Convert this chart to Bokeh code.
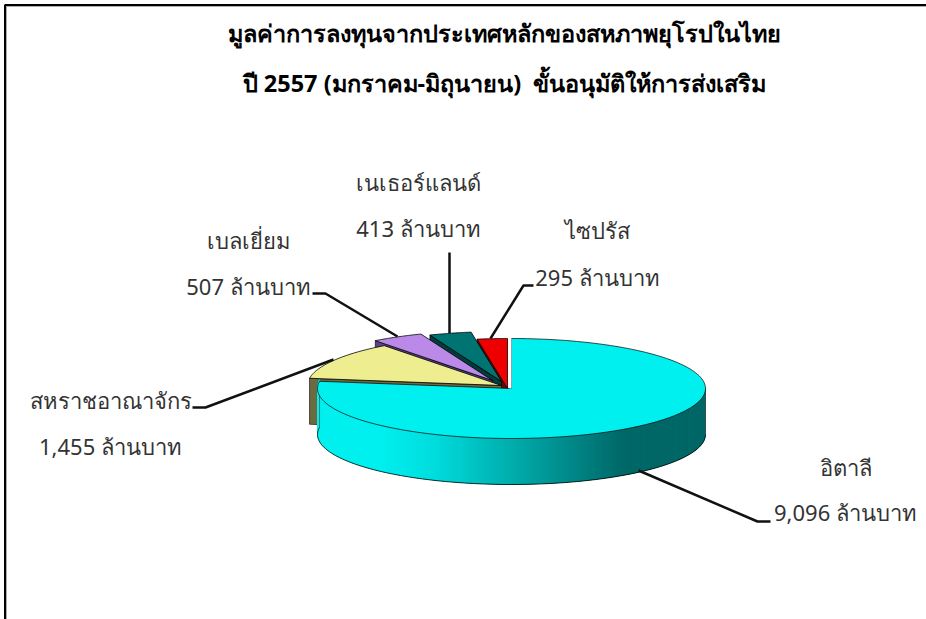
import numpy as np
from bokeh.plotting import figure
from bokeh.models import Range1d
from bokeh.core.properties import value
from bokeh.embed import file_html
from bokeh.resources import INLINE

# ---- data ----
countries = ["อิตาลี", "สหราชอาณาจักร", "เบลเยี่ยม", "เนเธอร์แลนด์", "ไซปรัส"]
amounts = [9096, 1455, 507, 413, 295]
amount_labels = ["9,096 ล้านบาท", "1,455 ล้านบาท", "507 ล้านบาท", "413 ล้านบาท", "295 ล้านบาท"]
title_lines = ["มูลค่าการลงทุนจากประเทศหลักของสหภาพยุโรปในไทย",
               "ปี 2557 (มกราคม-มิถุนายน)\u00a0 ขั้นอนุมัติให้การส่งเสริม"]

# ---- style / layout ----
W, H = 926, 619
FONT = "Noto Sans"
RX, RY, DEPTH = 194, 50, 46
top_colors = ["#00F0F0", "#EEEE90", "#BB8AE8", "#007373", "#EE0000"]
side_colors = ["#006666", "#6B6B42", "#5B4388", "#003C3C", "#770000"]
centers = [(511, 388), (501, 385), (492, 380), (501, 381), (507, 388)]
name_pos = [(845, 466), (110, 399), (248, 239), (418, 181), (597, 229)]
amount_pos = [(845, 511), (110, 445), (248, 285), (418, 227), (597, 276)]
leaders = [[(638, 470), (757, 521), (770, 521)],
           [(333, 359), (205, 407), (192, 407)],
           [(312, 293), (325, 293), (397, 336)],
           [(449, 252), (449, 333)],
           [(533, 285), (523, 285), (490, 338)]]

p = figure(width=W, height=H, output_backend="svg", toolbar_location=None,
           x_range=Range1d(0, W), y_range=Range1d(H, 0), min_border=0,
           margin=(0, 0, 0, 0), outline_line_color=None)
p.axis.visible = False
p.grid.visible = False

# frame
p.line([5.8, 5.8, W], [H, 5.8, 5.8], line_color="#999999", line_width=1)
p.line([4.5, 4.5, W], [H, 4.5, 4.5], line_color="#000000", line_width=2)


def ell(c, th):
    return c[0] + RX * np.sin(th), c[1] - RY * np.cos(th)


total = sum(amounts)
edges = np.radians(np.concatenate([[0], np.cumsum(amounts)]) / total * 360.0)

# small slices: back (last) to front
for i in range(len(amounts) - 1, 0, -1):
    c = centers[i]
    th = np.linspace(edges[i], edges[i + 1], 40)
    x, y = ell(c, th)
    sx = [c[0], x[0], x[0], c[0]]
    sy = [c[1], y[0], y[0] + DEPTH, c[1] + DEPTH]
    p.patch(sx, sy, fill_color=side_colors[i], line_color="#000000", line_width=0.6)
    p.patch(np.r_[c[0], x], np.r_[c[1], y], fill_color=top_colors[i],
            line_color="#000000", line_width=0.8)

# main slice: gradient side, overlapping strips drawn from right to left
c = centers[0]
th_side = np.radians(np.linspace(90, np.degrees(edges[1]), 200))
x_s, y_s = ell(c, th_side)
stops_x = [318, 380, 433, 533, 620, 640, 705]
stops_g = [240, 240, 221, 160, 105, 102, 102]
for k in range(len(th_side) - 1):
    j = min(k + 3, len(th_side) - 1)
    xs = [x_s[k], x_s[j], x_s[j], x_s[k]]
    ys = [y_s[k] - 2, y_s[j] - 2, y_s[j] + DEPTH, y_s[k] + DEPTH]
    g = int(np.interp((x_s[k] + x_s[k + 1]) / 2, stops_x, stops_g))
    p.patch(xs, ys, fill_color=f"#00{g:02x}{g:02x}", line_color=None)
p.line(x_s, y_s + DEPTH, line_color="#000000", line_width=0.8)
p.line([x_s[0], x_s[0]], [y_s[0], y_s[0] + DEPTH], line_color="#333333", line_width=0.6)
p.line([x_s[-1], x_s[-1]], [y_s[-1], y_s[-1] + DEPTH], line_color="#333333", line_width=0.6)

th = np.linspace(edges[0], edges[1], 300)
x, y = ell(c, th)
p.patch(np.r_[c[0], x], np.r_[c[1], y], fill_color=top_colors[0], line_color="#000000", line_width=0.7)
# white gap along the 12 o'clock cut
p.line([c[0] - 1, c[0] - 1], [c[1] - RY, c[1]], line_color="#ffffff", line_width=2)

# leader lines
for pts in leaders:
    p.line([q[0] for q in pts], [q[1] for q in pts], line_color="#111111", line_width=2.5)

# labels
p.text([q[0] for q in name_pos], [q[1] for q in name_pos], text=countries,
       text_font=value(FONT), text_font_size="22px", text_color="#333333",
       text_align="center", text_baseline="middle")
p.text([q[0] for q in amount_pos], [q[1] for q in amount_pos], text=amount_labels,
       text_font=value(FONT), text_font_size="22px", text_color="#333333",
       text_align="center", text_baseline="middle")
p.text([504, 504], [32, 82], text=title_lines, text_font=value(FONT), text_font_size="23.5px",
       text_font_style="bold", text_color="#000000", text_align="center", text_baseline="middle")

open("out.html", "w").write(file_html(p, INLINE))
